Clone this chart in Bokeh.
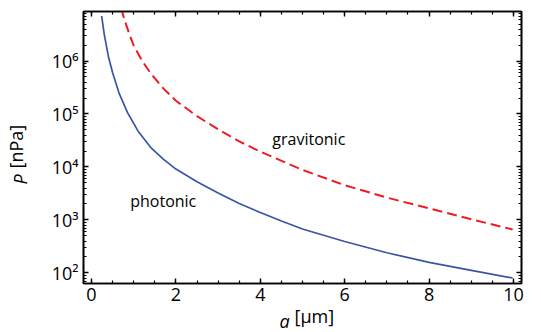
import math
from bokeh.plotting import figure
from bokeh.models import (Range1d, LogAxis, LinearAxis, Label, LogTicker,
                          SingleIntervalTicker, CustomJSTickFormatter)
from bokeh.embed import file_html
from bokeh.resources import INLINE

# ---- data ----
a_photonic = [0.24, 0.30, 0.40, 0.50, 0.65, 0.85, 1.1, 1.4, 1.7, 2.0, 2.5,
              3.0, 3.5, 4.0, 4.5, 5.0, 6.0, 7.0, 8.0, 9.0, 9.98]
P_photonic = [7.08e6, 3.24e6, 1.22e6, 6.03e5, 2.51e5, 1.07e5, 4.79e4, 2.35e4,
              1.41e4, 9120, 5250, 3240, 2040, 1380, 955, 676, 391, 240, 158,
              112, 80]

a_gravitonic = [0.70, 0.80, 0.90, 1.0, 1.2, 1.4, 1.7, 2.0, 2.5, 3.0, 3.5, 4.0,
                5.0, 6.0, 7.0, 8.0, 9.0, 9.98]
P_gravitonic = [9.9e6, 5.42e6, 3.19e6, 1.95e6, 1.01e6, 5.9e5, 3.05e5, 1.78e5,
                9.12e4, 5.13e4, 3.04e4, 1.95e4, 8810, 4520, 2640, 1650, 1030, 661]

x_ticks = [0, 2, 4, 6, 8, 10]
y_ticks = [100, 1000, 10000, 100000, 1000000]
y_tick_labels = ["10²", "10³", "10⁴", "10⁵", "10⁶"]

series_labels = ["photonic", "gravitonic"]

FONT = "Open Sans"
X0, X1 = -0.19, 10.19
Y0, Y1 = 10 ** 1.8, 10 ** 6.935

p = figure(width=541, height=332, output_backend="svg", toolbar_location=None,
           y_axis_type="log",
           x_range=Range1d(X0, X1), y_range=Range1d(Y0, Y1),
           min_border_left=81, min_border_right=22, min_border_top=11,
           min_border_bottom=49)
p.frame_width = 438
p.frame_height = 272
p.grid.visible = False
p.outline_line_color = "black"
p.outline_line_width = 1.6
p.background_fill_color = "white"
p.border_fill_color = "white"

# curves
p.line(a_photonic, P_photonic, line_color="#3A55A6", line_width=1.7)
p.line(a_gravitonic, P_gravitonic, line_color="#ED1C24", line_width=2,
       line_dash="10 5")

def style_axis(ax, show_labels=True):
    ax.axis_line_color = "black"
    ax.axis_line_width = 1.6
    ax.major_tick_in = 5
    ax.major_tick_out = 0
    ax.minor_tick_in = 3
    ax.minor_tick_out = 0
    ax.major_tick_line_color = "black"
    ax.minor_tick_line_color = "black"
    ax.major_tick_line_width = 1.4
    ax.minor_tick_line_width = 1.2
    ax.major_label_text_font = FONT
    ax.major_label_text_font_size = "18px"
    ax.major_label_text_color = "black"
    if not show_labels:
        ax.formatter = CustomJSTickFormatter(code="return ''")
        ax.major_label_text_font_size = "1px"
        ax.major_label_standoff = 0

# bottom x axis
xa = p.xaxis[0]
xa.ticker = SingleIntervalTicker(interval=2, num_minor_ticks=4)
style_axis(xa)
xa.major_label_standoff = 4

# left y axis
ya = p.yaxis[0]
ya.ticker = LogTicker(mantissas=[1], num_minor_ticks=10)
style_axis(ya)
ya.major_label_standoff = 5
ya.major_label_overrides = {t: s for t, s in zip(y_ticks, y_tick_labels)}

# mirrored top / right axes
top = LinearAxis(ticker=SingleIntervalTicker(interval=2, num_minor_ticks=4))
style_axis(top, False)
p.add_layout(top, "above")
right = LogAxis(ticker=LogTicker(mantissas=[1], num_minor_ticks=10))
style_axis(right, False)
p.add_layout(right, "right")

# series labels
p.add_layout(Label(x=1.70, y=10 ** 3.354, text=series_labels[0], text_font=FONT,
                   text_font_size="16px", text_align="center",
                   text_baseline="alphabetic", text_color="black"))
p.add_layout(Label(x=5.15, y=10 ** 4.52, text=series_labels[1], text_font=FONT,
                   text_font_size="16px", text_align="center",
                   text_baseline="alphabetic", text_color="black"))

# axis titles (italic symbol + unit), placed in side panels (not clipped)
p.add_layout(Label(x=211, y=12, x_units="screen", y_units="screen", text="[μm]",
                   text_font=FONT, text_font_size="18px", text_color="black",
                   text_align="left", text_baseline="alphabetic"), "below")
p.add_layout(Label(x=-242, y=-37, x_units="screen", y_units="screen", text="a",
                   text_font=FONT, text_font_style="italic", text_font_size="18px",
                   text_color="black",
                   text_align="left", text_baseline="alphabetic"), "right")
p.add_layout(Label(x=-5, y=99, x_units="screen", y_units="screen", text="P",
                   text_font=FONT, text_font_style="italic", text_font_size="18px",
                   text_color="black",
                   text_align="left", text_baseline="alphabetic", angle=math.pi / 2), "left")
p.add_layout(Label(x=15, y=115, x_units="screen", y_units="screen", text="[nPa]",
                   text_font=FONT, text_font_size="18px", text_color="black",
                   text_align="left", text_baseline="alphabetic", angle=math.pi / 2), "left")

open("out.html", "w").write(file_html(p, INLINE))
